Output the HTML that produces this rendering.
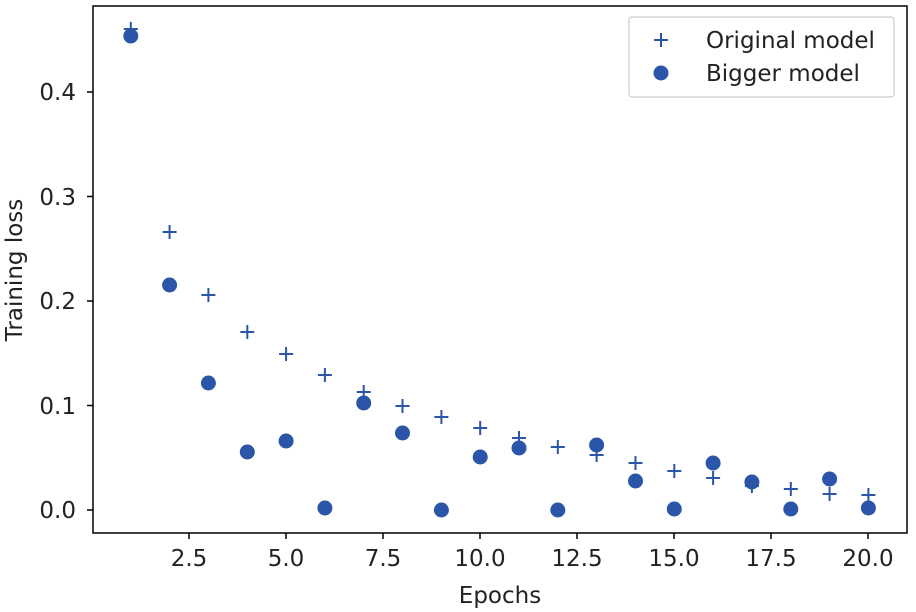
<!DOCTYPE html><html><head><style>body{margin:0;background:#fff}svg{display:block}text{font-family:"DejaVu Sans","Liberation Sans",sans-serif;fill:#222}</style></head><body>
<svg width="916" height="612" xmlns="http://www.w3.org/2000/svg">
<rect x="93" y="6" width="814" height="527" fill="none" stroke="#000" stroke-width="1.5"/>
<g stroke="#000" stroke-width="1.5">
<line x1="87" y1="510" x2="93" y2="510"/><line x1="87" y1="405.5" x2="93" y2="405.5"/><line x1="87" y1="301" x2="93" y2="301"/><line x1="87" y1="196.5" x2="93" y2="196.5"/><line x1="87" y1="92" x2="93" y2="92"/>
<line x1="189" y1="533" x2="189" y2="539"/><line x1="286" y1="533" x2="286" y2="539"/><line x1="383" y1="533" x2="383" y2="539"/><line x1="480" y1="533" x2="480" y2="539"/><line x1="577" y1="533" x2="577" y2="539"/><line x1="674" y1="533" x2="674" y2="539"/><line x1="771" y1="533" x2="771" y2="539"/><line x1="868" y1="533" x2="868" y2="539"/>
</g>
<g font-size="23" text-anchor="end">
<text x="76" y="518">0.0</text><text x="76" y="414">0.1</text><text x="76" y="309">0.2</text><text x="76" y="205">0.3</text><text x="76" y="100">0.4</text></g>
<g font-size="23" text-anchor="middle">
<text x="189" y="566">2.5</text><text x="286" y="566">5.0</text><text x="383" y="566">7.5</text><text x="480" y="566">10.0</text><text x="577" y="566">12.5</text><text x="674" y="566">15.0</text><text x="771" y="566">17.5</text><text x="868" y="566">20.0</text>
<text x="500" y="603">Epochs</text>
<text transform="translate(22,270) rotate(-90)">Training loss</text></g>
<g fill="#2a55a8">
<circle cx="130.8" cy="36" r="7.5"/><circle cx="169.6" cy="285" r="7.5"/><circle cx="208.4" cy="383" r="7.5"/><circle cx="247.3" cy="452" r="7.5"/><circle cx="286.1" cy="441" r="7.5"/><circle cx="324.9" cy="508" r="7.5"/><circle cx="363.7" cy="403" r="7.5"/><circle cx="402.5" cy="433" r="7.5"/><circle cx="441.4" cy="510" r="7.5"/><circle cx="480.2" cy="457" r="7.5"/><circle cx="519" cy="448" r="7.5"/><circle cx="557.8" cy="510" r="7.5"/><circle cx="596.6" cy="445" r="7.5"/><circle cx="635.5" cy="481" r="7.5"/><circle cx="674.3" cy="509" r="7.5"/><circle cx="713.1" cy="463" r="7.5"/><circle cx="751.9" cy="482" r="7.5"/><circle cx="790.8" cy="509" r="7.5"/><circle cx="829.6" cy="479" r="7.5"/><circle cx="868.4" cy="508" r="7.5"/>
</g>
<path stroke="#2a55a8" stroke-width="2" fill="none" d="
M123.8 29h14M130.8 22v14
M162.6 232h14M169.6 225v14
M201.4 295h14M208.4 288v14
M240.3 332h14M247.3 325v14
M279.1 354h14M286.1 347v14
M317.9 375h14M324.9 368v14
M356.7 392h14M363.7 385v14
M395.5 406h14M402.5 399v14
M434.4 417h14M441.4 410v14
M473.2 428h14M480.2 421v14
M512 438h14M519 431v14
M550.8 447h14M557.8 440v14
M589.6 455h14M596.6 448v14
M628.5 463h14M635.5 456v14
M667.3 471h14M674.3 464v14
M706.1 478h14M713.1 471v14
M744.9 486h14M751.9 479v14
M783.8 489h14M790.8 482v14
M822.6 494h14M829.6 487v14
M861.4 495h14M868.4 488v14"/>
<rect x="629" y="17" width="265" height="80" rx="3" fill="#fff" fill-opacity="0.85" stroke="#ccc" stroke-width="1.2"/>
<path d="M654 40h14M661 33v14" stroke="#2a55a8" stroke-width="2"/>
<circle cx="661" cy="73" r="7.5" fill="#2a55a8"/>
<text x="706" y="48" font-size="23">Original model</text>
<text x="706" y="81" font-size="23">Bigger model</text>
</svg></body></html>
